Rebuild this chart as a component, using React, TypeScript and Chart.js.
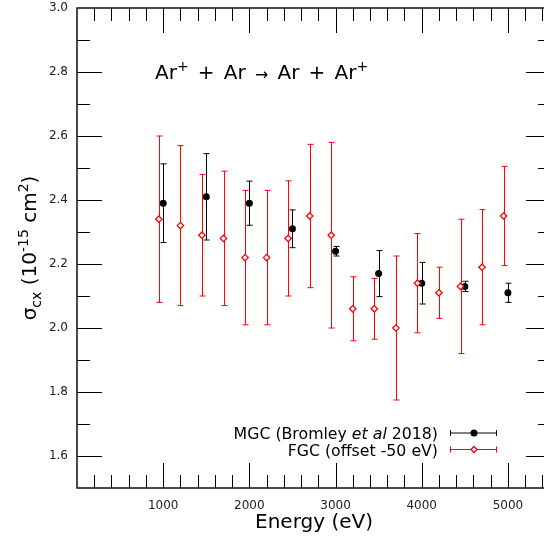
import { useEffect, useRef } from 'react';
import { Chart, registerables } from 'chart.js';
Chart.register(...registerables);

const FONT = '"DejaVu Sans", sans-serif';

// MGC (Bromley et al 2018)
const mgcEnergy = [1000, 1500, 2000, 2500, 3000, 3500, 4000, 4500, 5000];
const mgcSigma = [2.39, 2.41, 2.39, 2.31, 2.24, 2.17, 2.14, 2.13, 2.11];
const mgcErr = [0.123, 0.135, 0.069, 0.059, 0.015, 0.072, 0.065, 0.016, 0.03];

// FGC (offset -50 eV)
const fgcEnergy = [950, 1200, 1450, 1700, 1950, 2200, 2450, 2700, 2950, 3200, 3450, 3700, 3950, 4200, 4450, 4700, 4950];
const fgcSigma = [2.34, 2.32, 2.29, 2.28, 2.22, 2.22, 2.28, 2.35, 2.29, 2.06, 2.06, 2.0, 2.14, 2.11, 2.13, 2.19, 2.35];
const fgcErr = [0.26, 0.25, 0.19, 0.21, 0.21, 0.21, 0.18, 0.224, 0.29, 0.1, 0.095, 0.225, 0.155, 0.08, 0.21, 0.18, 0.155];

const xTickValues = [1000, 2000, 3000, 4000, 5000];
const yTickValues = [1.6, 1.8, 2.0, 2.2, 2.4, 2.6, 2.8, 3.0];
const xMinorStep = 200;
const yMinorStep = 0.1;

type Part = { t: string; s: number; dy?: number; it?: boolean; gap?: number };

function drawRich(ctx: CanvasRenderingContext2D, parts: Part[], x: number, y: number, align: 'left' | 'center' | 'right') {
  const widths = parts.map((p) => {
    ctx.font = `${p.it ? 'italic ' : ''}${p.s}px ${FONT}`;
    return ctx.measureText(p.t).width + (p.gap || 0);
  });
  const total = widths.reduce((a, b) => a + b, 0);
  let cx = align === 'right' ? x - total : align === 'center' ? x - total / 2 : x;
  ctx.textAlign = 'left';
  ctx.textBaseline = 'alphabetic';
  parts.forEach((p, i) => {
    ctx.font = `${p.it ? 'italic ' : ''}${p.s}px ${FONT}`;
    cx += p.gap || 0;
    ctx.fillText(p.t, cx, y + (p.dy || 0));
    cx += widths[i] - (p.gap || 0);
  });
}

const decor = {
  id: 'decor',
  beforeDatasetDraw(chart: any, args: any) {
    const ds = chart.data.datasets[args.index];
    const errs: number[] = ds.errorBars;
    if (!errs) return;
    const xs = chart.scales.x;
    const ys = chart.scales.y;
    const ctx: CanvasRenderingContext2D = chart.ctx;
    ctx.save();
    ctx.strokeStyle = ds.errorColor;
    ctx.lineWidth = 1;
    ds.data.forEach((d: any, i: number) => {
      const px = Math.round(xs.getPixelForValue(d.x)) + 0.5;
      const top = ys.getPixelForValue(d.y + errs[i]);
      const bot = ys.getPixelForValue(d.y - errs[i]);
      ctx.beginPath();
      ctx.moveTo(px, top);
      ctx.lineTo(px, bot);
      ctx.moveTo(px - 3, top);
      ctx.lineTo(px + 3, top);
      ctx.moveTo(px - 3, bot);
      ctx.lineTo(px + 3, bot);
      ctx.stroke();
    });
    ctx.restore();
  },
  afterDraw(chart: any) {
    const ctx: CanvasRenderingContext2D = chart.ctx;
    const xs = chart.scales.x;
    const ys = chart.scales.y;
    const a = chart.chartArea;
    ctx.save();
    // ticks (inward on all four sides)
    ctx.strokeStyle = '#000';
    ctx.lineWidth = 1;
    ctx.beginPath();
    for (let v = xMinorStep; v < xs.max; v += xMinorStep) {
      const major = xTickValues.includes(Math.round(v));
      const len = major ? 25 : 13;
      const px = Math.round(xs.getPixelForValue(v)) + 0.5;
      ctx.moveTo(px, a.bottom);
      ctx.lineTo(px, a.bottom - len);
      ctx.moveTo(px, a.top);
      ctx.lineTo(px, a.top + len);
    }
    for (let k = 1; ys.min + k * yMinorStep < ys.max - 1e-9; k++) {
      const v = ys.min + k * yMinorStep;
      const major = yTickValues.some((t) => Math.abs(t - v) < 1e-6);
      const len = major ? 25 : 13;
      const py = Math.round(ys.getPixelForValue(v)) + 0.5;
      ctx.moveTo(a.left, py);
      ctx.lineTo(a.left + len, py);
      ctx.moveTo(a.right, py);
      ctx.lineTo(a.right - len, py);
    }
    ctx.stroke();
    // frame
    ctx.lineWidth = 1.5;
    ctx.strokeStyle = '#111';
    ctx.strokeRect(a.left, a.top, a.right - a.left, a.bottom - a.top);

    ctx.fillStyle = '#000';
    // title
    const G = 9.2;
    drawRich(ctx, [
      { t: 'Ar', s: 20 },
      { t: '+', s: 14, dy: -8 },
      { t: '+', s: 20, gap: G },
      { t: 'Ar', s: 20, gap: G },
      { t: '→', s: 16, dy: 1, gap: G },
      { t: 'Ar', s: 20, gap: G },
      { t: '+', s: 20, gap: G },
      { t: 'Ar', s: 20, gap: G },
      { t: '+', s: 14, dy: -8 },
    ], 155, 79, 'left');

    // x title
    drawRich(ctx, [{ t: 'Energy (eV)', s: 20 }], (a.left + a.right) / 2, 528, 'center');

    // y title
    ctx.save();
    ctx.translate(36, (a.top + a.bottom) / 2);
    ctx.rotate(-Math.PI / 2);
    drawRich(ctx, [
      { t: 'σ', s: 20 },
      { t: 'cx', s: 14, dy: 5 },
      { t: ' (10', s: 20 },
      { t: '-15', s: 14, dy: -8 },
      { t: ' cm', s: 20 },
      { t: '2', s: 14, dy: -8 },
      { t: ')', s: 20 },
    ], 0, 0, 'center');
    ctx.restore();

    // legend
    const LS = 15.75;
    const rows = [
      { parts: [{ t: 'MGC (Bromley ', s: LS }, { t: 'et al', s: LS, it: true }, { t: ' 2018)', s: LS }], color: '#000', y: 433, ds: 1 },
      { parts: [{ t: 'FGC (offset -50 eV)', s: LS }], color: '#ff0000', y: 449.5, ds: 0 },
    ];
    rows.forEach((r) => {
      ctx.fillStyle = '#000';
      drawRich(ctx, r.parts, 438, r.y + 6, 'right');
      ctx.strokeStyle = r.color;
      ctx.lineWidth = 1;
      ctx.beginPath();
      ctx.moveTo(450, r.y);
      ctx.lineTo(497, r.y);
      ctx.moveTo(450.5, r.y - 3);
      ctx.lineTo(450.5, r.y + 3);
      ctx.moveTo(496.5, r.y - 3);
      ctx.lineTo(496.5, r.y + 3);
      ctx.stroke();
      if (r.ds === 1) {
        ctx.fillStyle = '#000';
        ctx.beginPath();
        ctx.arc(474, r.y, 3.5, 0, Math.PI * 2);
        ctx.fill();
      } else {
        ctx.fillStyle = '#fff';
        ctx.lineWidth = 1.3;
        ctx.beginPath();
        ctx.moveTo(474, r.y - 3);
        ctx.lineTo(477, r.y);
        ctx.lineTo(474, r.y + 3);
        ctx.lineTo(471, r.y);
        ctx.closePath();
        ctx.fill();
        ctx.stroke();
      }
    });
    ctx.restore();
  },
};

export default function App() {
  const ref = useRef<HTMLCanvasElement>(null);
  useEffect(() => {
    document.body.style.margin = '0';
    if (!ref.current) return;
    const chart = new Chart(ref.current, {
      type: 'scatter',
      data: {
        datasets: [
          {
            label: 'FGC (offset -50 eV)',
            data: fgcEnergy.map((x, i) => ({ x, y: fgcSigma[i] })),
            pointStyle: 'rectRot',
            pointRadius: 3.2,
            pointBorderWidth: 1.3,
            pointBorderColor: '#ff0000',
            pointBackgroundColor: '#ffffff',
            showLine: false,
            errorBars: fgcErr,
            errorColor: '#ff0000',
          } as any,
          {
            label: 'MGC (Bromley et al 2018)',
            data: mgcEnergy.map((x, i) => ({ x, y: mgcSigma[i] })),
            pointStyle: 'circle',
            pointRadius: 3.5,
            pointBorderWidth: 0,
            pointBackgroundColor: '#000000',
            pointBorderColor: '#000000',
            showLine: false,
            errorBars: mgcErr,
            errorColor: '#000000',
          } as any,
        ],
      },
      options: {
        animation: false,
        responsive: false,
        layout: { padding: { top: 8, right: 9, left: 0, bottom: 0 } },
        plugins: { legend: { display: false }, tooltip: { enabled: false } },
        scales: {
          x: {
            type: 'linear',
            min: 0,
            max: 5500,
            afterBuildTicks: (s: any) => { s.ticks = xTickValues.map((v) => ({ value: v })); },
            afterFit: (s: any) => { s.height = 50; s.paddingLeft = 0; s.paddingRight = 0; },
            grid: { display: false, drawTicks: false },
            border: { display: false },
            ticks: { font: { family: FONT, size: 12 }, color: '#222', padding: 11, maxRotation: 0, autoSkip: false, callback: (v: any) => String(v) },
          },
          y: {
            type: 'linear',
            min: 1.5,
            max: 3.0,
            afterBuildTicks: (s: any) => { s.ticks = yTickValues.map((v) => ({ value: v })); },
            afterFit: (s: any) => { s.width = 77; s.paddingTop = 0; s.paddingBottom = 0; },
            grid: { display: false, drawTicks: false },
            border: { display: false },
            ticks: { font: { family: FONT, size: 12 }, color: '#222', padding: 9, autoSkip: false, callback: (v: any) => Number(v).toFixed(1) },
          },
        },
      },
      plugins: [decor],
    });
    return () => chart.destroy();
  }, []);
  return (
    <div style={{ position: 'fixed', left: 0, top: 0, width: 544, height: 538, overflow: 'hidden', background: '#fff' }}>
      <canvas ref={ref} width={560} height={538} style={{ width: 560, height: 538, display: 'block' }} />
    </div>
  );
}
